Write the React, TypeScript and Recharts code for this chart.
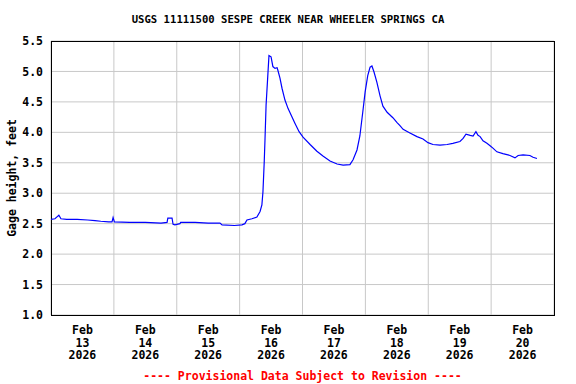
import React from "react";
import {
  LineChart,
  Line,
  XAxis,
  YAxis,
  CartesianGrid,
  ReferenceArea,
} from "recharts";

// hours since Feb 13 2026 00:00 local time
const hours = [
  0, 1.5, 2.5, 3.0, 3.8, 6, 10, 14, 16.8, 19, 22, 23.3, 23.7, 24.2, 30, 36,
  42, 44.3, 44.6, 46.2, 46.6, 47.3, 49.2, 49.5, 55, 60, 64.5, 65.3, 70, 72.9,
  74.0, 74.8, 76.7, 78.6, 79.8, 80.5, 80.9, 81.4, 81.7, 82.1, 82.7, 83.2, 84.0,
  84.7, 85.5, 86.3, 86.6, 87.4, 88.2, 89.3, 90.5, 92.0, 93.1, 94.7, 96.2, 98.9,
  101.5, 103.8, 106.5, 109.2, 111.5, 114.1, 115.3, 116.8, 117.9, 119.0, 119.9,
  120.9, 121.8, 122.5, 123.3, 124.4, 125.6, 126.7, 128.3, 130.5, 132.1, 133.2,
  134.4, 137.0, 139.7, 142.0, 143.9, 145.8, 148.5, 151.2, 153.4, 156.1, 157.3,
  158.4, 160.0, 161.1, 162.2, 163.0, 163.8, 164.9, 166.4, 167.6, 168.7, 170.2,
  172.5, 175.2, 177.1, 178.3, 180.2, 182.8, 184.0, 185.5,
];

// gage height, feet
const gageHeight = [
  2.57, 2.58, 2.62, 2.64, 2.58, 2.57, 2.57, 2.56, 2.55, 2.54, 2.53, 2.53, 2.6,
  2.53, 2.52, 2.52, 2.51, 2.52, 2.59, 2.59, 2.49, 2.48, 2.5, 2.52, 2.52, 2.51,
  2.51, 2.48, 2.47, 2.48, 2.5, 2.56, 2.58, 2.61, 2.7, 2.81, 3.02, 3.52, 3.9,
  4.45, 4.89, 5.26, 5.24, 5.08, 5.05, 5.06, 5.02, 4.89, 4.72, 4.53, 4.39, 4.25,
  4.15, 4.01, 3.92, 3.8, 3.69, 3.61, 3.53, 3.48, 3.46, 3.47, 3.55, 3.71, 3.94,
  4.33, 4.66, 4.93, 5.07, 5.09, 4.99, 4.82, 4.6, 4.43, 4.33, 4.24, 4.16, 4.11,
  4.05, 3.99, 3.93, 3.89, 3.83, 3.8, 3.79, 3.8, 3.82, 3.85, 3.9, 3.97, 3.95,
  3.94, 4.01, 3.95, 3.93, 3.86, 3.82, 3.78, 3.74, 3.68, 3.65, 3.62, 3.58, 3.62,
  3.63, 3.62, 3.59, 3.57,
];

const labelHours = [12, 36, 60, 84, 108, 132, 156, 180];
const dayLabels = ["13", "14", "15", "16", "17", "18", "19", "20"];
const monthLabel = "Feb";
const yearLabel = "2026";
const midnightHours = [24, 48, 72, 96, 120, 144, 168];
const yTicks = [1.0, 1.5, 2.0, 2.5, 3.0, 3.5, 4.0, 4.5, 5.0, 5.5];

const title = "USGS 11111500 SESPE CREEK NEAR WHEELER SPRINGS CA";
const yTitle = "Gage height, feet";
const note = "---- Provisional Data Subject to Revision ----";

const FONT = "'DejaVu Sans Mono', 'Liberation Mono', monospace";

const data = hours.map((h, i) => ({ h, v: gageHeight[i] }));

// eslint-disable-next-line @typescript-eslint/no-explicit-any
const DateTick = ({ x, y, payload }: any) => {
  const i = labelHours.indexOf(payload.value);
  return (
    <text
      x={x}
      y={y}
      textAnchor="middle"
      fontFamily={FONT}
      fontSize={11.5}
      fontWeight="bold"
      fill="#000"
    >
      <tspan x={x} dy={19}>
        {monthLabel}
      </tspan>
      <tspan x={x} dy={12.5}>
        {dayLabels[i]}
      </tspan>
      <tspan x={x} dy={12.5}>
        {yearLabel}
      </tspan>
    </text>
  );
};

export default function App() {
  return (
    <div
      style={{
        position: "absolute",
        left: 0,
        top: 0,
        width: 576,
        height: 384,
        background: "#fff",
      }}
    >
      <div
        style={{
          position: "absolute",
          top: 12,
          left: 0,
          width: 576,
          textAlign: "center",
          fontFamily: FONT,
          fontSize: 10.6,
          fontWeight: "bold",
          color: "#000",
          lineHeight: "14px",
        }}
      >
        {title}
      </div>
      <LineChart
        width={576}
        height={384}
        data={data}
        margin={{ top: 41, right: 22, bottom: 0, left: 0 }}
      >
        <XAxis
          xAxisId="grid"
          dataKey="h"
          type="number"
          domain={[0, 192]}
          ticks={midnightHours}
          hide
        />
        <CartesianGrid xAxisId="grid" stroke="#c8c8c8" strokeWidth={1} />
        <XAxis
          dataKey="h"
          type="number"
          domain={[0, 192]}
          ticks={labelHours}
          tick={<DateTick />}
          tickLine={false}
          axisLine={false}
          tickSize={0}
          tickMargin={0}
          height={69}
          interval={0}
          label={{
            // eslint-disable-next-line @typescript-eslint/no-explicit-any
            content: ({ viewBox }: any) => (
              <text
                x={viewBox.x + viewBox.width / 2}
                y={viewBox.y + 65}
                textAnchor="middle"
                fontFamily={FONT}
                fontSize={11.5}
                fontWeight="bold"
                fill="#ff0000"
              >
                {note}
              </text>
            ),
          }}
        />
        <YAxis
          domain={[1, 5.5]}
          ticks={yTicks}
          tickFormatter={(v: number) => v.toFixed(1)}
          tickLine={false}
          axisLine={false}
          tickSize={0}
          tickMargin={8}
          width={51}
          tick={{
            fill: "#000",
            fontFamily: FONT,
            fontSize: 11.5,
            fontWeight: "bold",
          }}
          label={{
            // eslint-disable-next-line @typescript-eslint/no-explicit-any
            content: ({ viewBox }: any) => {
              const cx = 12;
              const cy = viewBox.y + viewBox.height / 2;
              return (
                <text
                  x={cx}
                  y={cy}
                  transform={`rotate(-90 ${cx} ${cy})`}
                  textAnchor="middle"
                  dominantBaseline="central"
                  fontFamily={FONT}
                  fontSize={11.5}
                  fontWeight="bold"
                  fill="#000"
                >
                  {yTitle}
                </text>
              );
            },
          }}
        />
        <ReferenceArea
          x1={0}
          x2={192}
          y1={1}
          y2={5.5}
          fill="none"
          stroke="#000"
          strokeWidth={1}
          fillOpacity={0}
          shapeRendering="crispEdges"
        />
        <Line
          type="linear"
          dataKey="v"
          stroke="#0000ff"
          strokeWidth={1.2}
          dot={false}
          isAnimationActive={false}
        />
      </LineChart>
    </div>
  );
}
